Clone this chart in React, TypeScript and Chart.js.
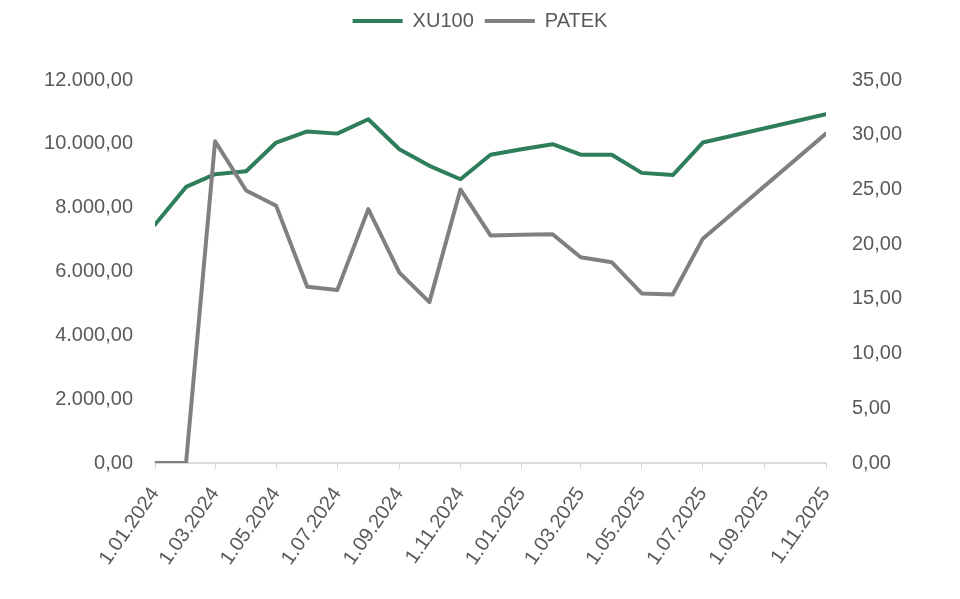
import React, { useEffect, useRef } from 'react';
import { Chart, registerables } from 'chart.js';

Chart.register(...registerables);

const dates = [
  '2024-01-01', '2024-02-01', '2024-03-01', '2024-04-01', '2024-05-01', '2024-06-01',
  '2024-07-01', '2024-08-01', '2024-09-01', '2024-10-01', '2024-11-01', '2024-12-01',
  '2025-01-01', '2025-02-01', '2025-03-01', '2025-04-01', '2025-05-01', '2025-06-01',
  '2025-07-01', '2025-11-01',
];
const xu100 = [
  7470, 8650, 9050, 9140, 10040, 10390, 10320, 10770, 9830, 9310, 8890, 9660,
  9830, 9990, 9660, 9660, 9090, 9020, 10040, 10930,
];
const patek = [
  0, 0, 29.4, 24.9, 23.5, 16.1, 15.8, 23.2, 17.4, 14.7, 25.0, 20.8,
  20.85, 20.9, 18.8, 18.35, 15.5, 15.4, 20.5, 30.1,
];
const tickDates = [
  '2024-01-01', '2024-03-01', '2024-05-01', '2024-07-01', '2024-09-01', '2024-11-01',
  '2025-01-01', '2025-03-01', '2025-05-01', '2025-07-01', '2025-09-01', '2025-11-01',
];
const tickLabels = [
  '1.01.2024', '1.03.2024', '1.05.2024', '1.07.2024', '1.09.2024', '1.11.2024',
  '1.01.2025', '1.03.2025', '1.05.2025', '1.07.2025', '1.09.2025', '1.11.2025',
];
const leftTicks = [0, 2000, 4000, 6000, 8000, 10000, 12000];
const rightTicks = [0, 5, 10, 15, 20, 25, 30, 35];

const BASE = Date.UTC(2024, 0, 1);
const dayOf = (s: string) => {
  const [y, m, d] = s.split('-').map(Number);
  return (Date.UTC(y, m - 1, d) - BASE) / 86400000;
};

const fmt = (v: number) => {
  const fixed = Math.abs(v).toFixed(2);
  const [ip, dp] = fixed.split('.');
  const withDots = ip.replace(/\B(?=(\d{3})+(?!\d))/g, '.');
  return (v < 0 ? '-' : '') + withDots + ',' + dp;
};

const FONT_FAMILY = '"Liberation Sans", Arial, sans-serif';
const FONT_SIZE = 20;
const TEXT = '#595959';

const legendSpacer = {
  id: 'legendSpacer',
  beforeLayout(chart: any) {
    const lg = chart.legend;
    if (lg && !lg._spacerPatched) {
      const orig = lg.fit.bind(lg);
      lg.fit = function () {
        orig();
        this.height += 39;
      };
      lg._spacerPatched = true;
    }
  },
};

export default function App() {
  const ref = useRef<HTMLCanvasElement>(null);

  useEffect(() => {
    if (!ref.current) return;
    const tickDays = tickDates.map(dayOf);
    const chart = new Chart(ref.current, {
      type: 'line',
      plugins: [legendSpacer],
      data: {
        datasets: [
          {
            label: 'XU100',
            data: dates.map((d, i) => ({ x: dayOf(d), y: xu100[i] })),
            borderColor: '#2E7D5B',
            backgroundColor: '#2E7D5B',
            borderWidth: 4,
            pointRadius: 0,
            tension: 0,
            borderJoinStyle: 'round',
            borderCapStyle: 'round',
            yAxisID: 'y',
            order: 1,
          },
          {
            label: 'PATEK',
            data: dates.map((d, i) => ({ x: dayOf(d), y: patek[i] })),
            borderColor: '#808080',
            backgroundColor: '#808080',
            borderWidth: 4,
            pointRadius: 0,
            tension: 0,
            borderJoinStyle: 'round',
            borderCapStyle: 'round',
            yAxisID: 'y1',
            order: 0,
          },
        ],
      },
      options: {
        responsive: false,
        animation: false,
        layout: { padding: { left: 0, right: 0, top: 0, bottom: 0 } },
        plugins: {
          tooltip: { enabled: false },
          legend: {
            display: true,
            position: 'top',
            labels: {
              usePointStyle: true,
              pointStyle: 'line',
              pointStyleWidth: 50,
              color: TEXT,
              font: { family: FONT_FAMILY, size: FONT_SIZE },
              padding: 11,
              sort: (a: any, b: any) => a.datasetIndex - b.datasetIndex,
            },
          },
        },
        scales: {
          x: {
            type: 'linear',
            min: 0,
            max: dayOf('2025-11-01'),
            afterBuildTicks: (s: any) => {
              s.ticks = tickDays.map((v) => ({ value: v }));
            },
            afterFit: (s: any) => {
              s.height = 136;
            },
            grid: {
              display: true,
              drawOnChartArea: false,
              drawTicks: true,
              tickLength: 6,
              color: '#d9d9d9',
              lineWidth: 1,
            },
            border: { display: true, color: '#d9d9d9', width: 2 },
            ticks: {
              autoSkip: false,
              minRotation: 55,
              maxRotation: 55,
              padding: 14,
              color: TEXT,
              font: { family: FONT_FAMILY, size: FONT_SIZE },
              callback: (value: any) => {
                const i = tickDays.indexOf(Number(value));
                return i >= 0 ? tickLabels[i] : '';
              },
            },
          },
          y: {
            type: 'linear',
            position: 'left',
            min: 0,
            max: 12000,
            afterBuildTicks: (s: any) => {
              s.ticks = leftTicks.map((v) => ({ value: v }));
            },
            afterFit: (s: any) => {
              s.width = 155;
            },
            grid: { display: false, drawTicks: false },
            border: { display: false },
            ticks: {
              padding: 22,
              color: TEXT,
              font: { family: FONT_FAMILY, size: FONT_SIZE },
              callback: (value: any) => fmt(Number(value)),
            },
          },
          y1: {
            type: 'linear',
            position: 'right',
            min: 0,
            max: 35,
            afterBuildTicks: (s: any) => {
              s.ticks = rightTicks.map((v) => ({ value: v }));
            },
            afterFit: (s: any) => {
              s.width = 134;
            },
            grid: { display: false, drawTicks: false },
            border: { display: false },
            ticks: {
              padding: 26,
              color: TEXT,
              font: { family: FONT_FAMILY, size: FONT_SIZE },
              callback: (value: any) => fmt(Number(value)),
            },
          },
        },
      },
    });
    return () => chart.destroy();
  }, []);

  return (
    <div style={{ position: 'absolute', left: 0, top: 0, width: 960, height: 599, background: '#ffffff' }}>
      <canvas ref={ref} width={960} height={599} style={{ display: 'block' }} />
    </div>
  );
}
